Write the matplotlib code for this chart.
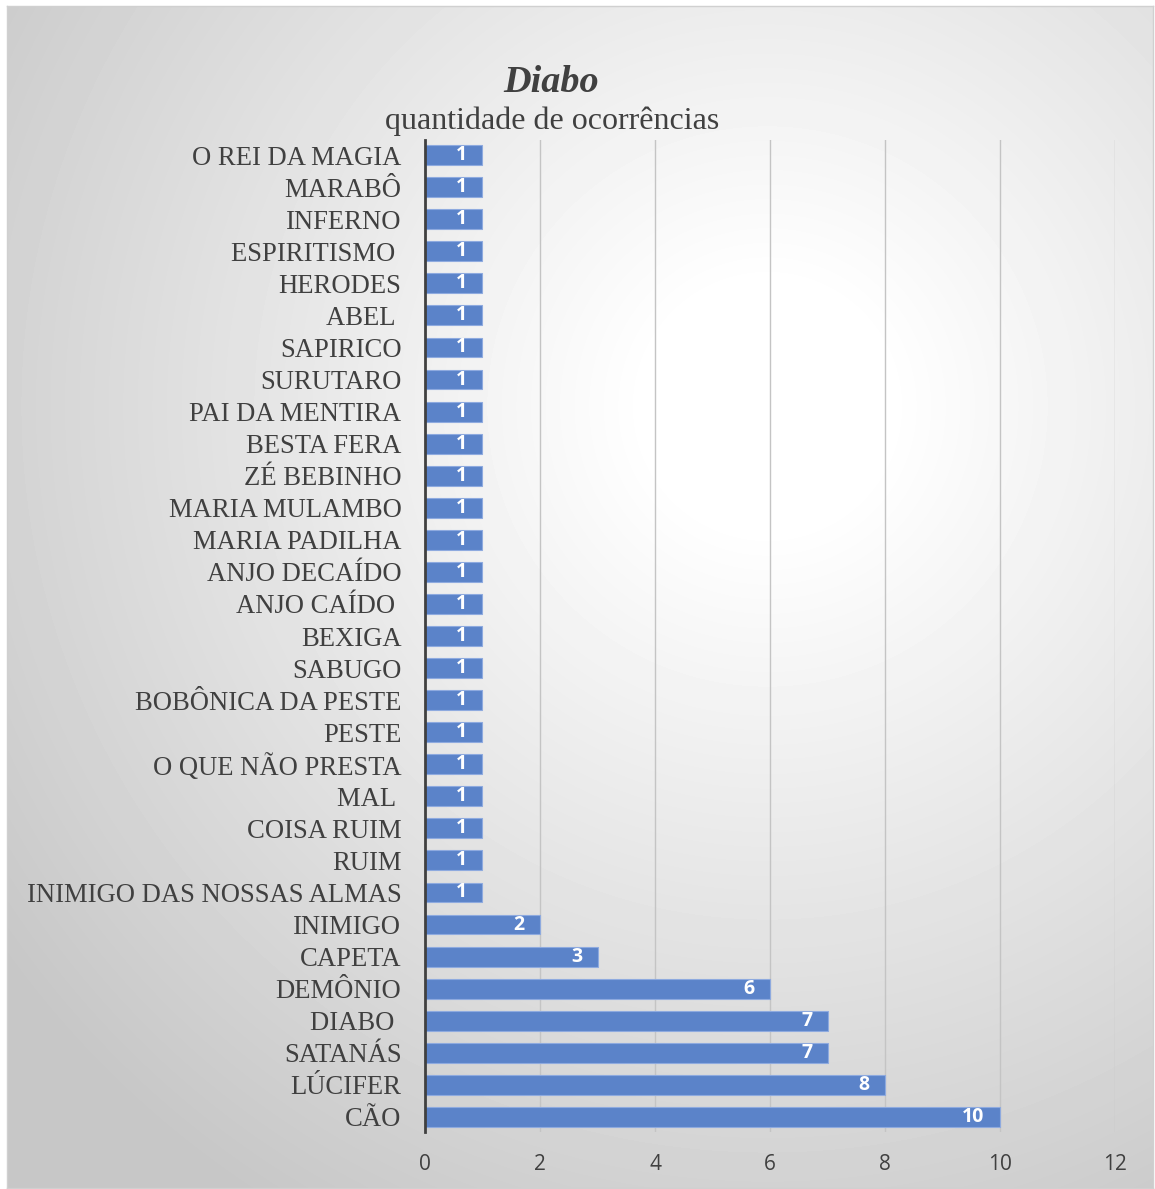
import matplotlib.pyplot as plt
import numpy as np

# data (top to bottom as in the chart)
labels = ["O REI DA MAGIA", "MARABÔ", "INFERNO", "ESPIRITISMO ", "HERODES", "ABEL ",
          "SAPIRICO", "SURUTARO", "PAI DA MENTIRA", "BESTA FERA", "ZÉ BEBINHO",
          "MARIA MULAMBO", "MARIA PADILHA", "ANJO DECAÍDO", "ANJO CAÍDO ", "BEXIGA",
          "SABUGO", "BOBÔNICA DA PESTE", "PESTE", "O QUE NÃO PRESTA", "MAL ",
          "COISA RUIM", "RUIM", "INIMIGO DAS NOSSAS ALMAS", "INIMIGO", "CAPETA",
          "DEMÔNIO", "DIABO ", "SATANÁS", "LÚCIFER", "CÃO"]
values = [1] * 24 + [2, 3, 6, 7, 7, 8, 10]
xticks = [0, 2, 4, 6, 8, 10, 12]

text_col = "#404040"
bar_col = "#5b83c9"

fig = plt.figure(figsize=(11.55, 11.89), dpi=100)

# radial gradient background of the chart area
bg = fig.add_axes([7 / 1155, 1 - 1188 / 1189, 1146 / 1155, 1182 / 1189])
h, w = 1182, 1146
yy, xx = np.mgrid[0:h, 0:w]
cx, cy = 760, 400
d = np.sqrt((xx - cx) ** 2 + (yy - cy) ** 2)
d = np.clip((d - 120) / 820, 0, 1)
g = 1.0 - 0.22 * d
bg.imshow(g, cmap="gray", vmin=0, vmax=1, aspect="auto", interpolation="bilinear")
bg.set_xticks([])
bg.set_yticks([])
for s in bg.spines.values():
    s.set_color("#d0d0d0")
    s.set_linewidth(1)

ax = fig.add_axes([425 / 1155, 1 - 1132 / 1189, 690 / 1155, 992 / 1189])
ax.patch.set_alpha(0)

y = np.arange(len(labels))[::-1]
bars = ax.barh(y, values, height=0.62, color=bar_col, edgecolor="#8eaadf",
               linewidth=0.8, zorder=3)

for yi, v in zip(y, values):
    ax.annotate(str(v), xy=(v, yi), xytext=(-11, 0), textcoords="offset points",
                ha="right", va="center", color="white", fontweight="bold",
                fontsize=14, family="Open Sans", zorder=4)

ax.set_xlim(0, 12)
ax.set_ylim(-0.47, len(labels) - 0.53)
ax.set_xticks(xticks)
ax.set_yticks(y)
ax.set_yticklabels(labels, family="Liberation Serif", fontsize=19.2, color=text_col)
ax.tick_params(axis="y", length=0, pad=17)
ax.tick_params(axis="x", length=0, pad=16, labelsize=15, labelcolor=text_col)
for lab in ax.get_xticklabels():
    lab.set_family("Open Sans")

ax.grid(axis="x", color="#c4c4c4", linewidth=1, zorder=0)
for s in ["top", "right", "bottom"]:
    ax.spines[s].set_visible(False)
ax.spines["left"].set_color(text_col)
ax.spines["left"].set_linewidth(2)
ax.spines["left"].set_zorder(5)

fig.text(551 / 1155, 1 - 82 / 1189, "Diabo", ha="center", va="center",
         family="Liberation Serif", fontsize=27.5, fontweight="bold",
         fontstyle="italic", color=text_col)
fig.text(552 / 1155, 1 - 121 / 1189, "quantidade de ocorrências", ha="center",
         va="center", family="Liberation Serif", fontsize=23, color=text_col)

fig.savefig("out.png", dpi=100)
